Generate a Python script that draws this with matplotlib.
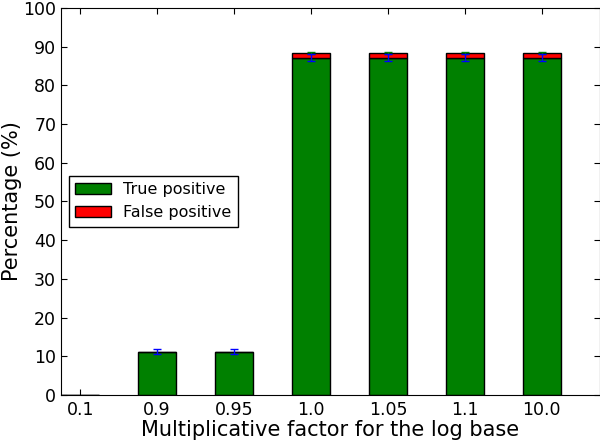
import matplotlib
matplotlib.use("Agg")
import numpy as np
from matplotlib import pyplot as plt

factors = ["0.1", "0.9", "0.95", "1.0", "1.05", "1.1", "10.0"]
true_pos = [0, 11.2, 11.2, 87.2, 87.2, 87.2, 87.2]
false_pos = [0, 0, 0, 1.2, 1.2, 1.2, 1.2]
tp_err = [0, 0.7, 0.7, 0.9, 0.9, 0.9, 0.9]
fp_err = [0, 0, 0, 0.3, 0.3, 0.3, 0.3]

x = np.arange(len(factors))
width = 0.5

fig = plt.figure(figsize=(6, 4.43), dpi=100)
ax = fig.add_axes([0.1017, 0.1084, 0.8975, 0.8736])

ax.bar(x, true_pos, width, color="green", edgecolor="black", linewidth=1,
	label="True positive", zorder=2)
ax.bar(x, false_pos, width, bottom=true_pos, color="red", edgecolor="black",
	linewidth=1, label="False positive", zorder=2)

# skip the empty bars, nothing is drawn there
tops = np.array(true_pos) + np.array(false_pos)
has = tops > 0
fp_has = np.array(false_pos) > 0
ax.errorbar(x[fp_has], tops[fp_has], yerr=np.array(fp_err)[fp_has], fmt="none",
	ecolor="green", capsize=3, elinewidth=1, zorder=3)
ax.errorbar(x[has], np.array(true_pos)[has], yerr=np.array(tp_err)[has],
	fmt="none", ecolor="blue", capsize=3, elinewidth=1, zorder=4)

ax.set_xlim(-0.25, 6.75)
ax.set_ylim(0, 100)
ax.set_xticks(x)
ax.set_xticklabels(factors)
ax.set_yticks(range(0, 101, 10))
ax.tick_params(direction="in", top=True, right=True, labelsize=12.5, length=4)
ax.tick_params(axis="x", pad=4)

ax.set_xlabel("Multiplicative factor for the log base", fontsize=15, labelpad=1)
ax.set_ylabel("Percentage (%)", fontsize=15, labelpad=1)

ax.legend(loc="center left", fontsize=11.5, fancybox=False, edgecolor="black",
	framealpha=1, borderaxespad=0.5, handlelength=2.2)

fig.savefig("out.png", dpi=100)
